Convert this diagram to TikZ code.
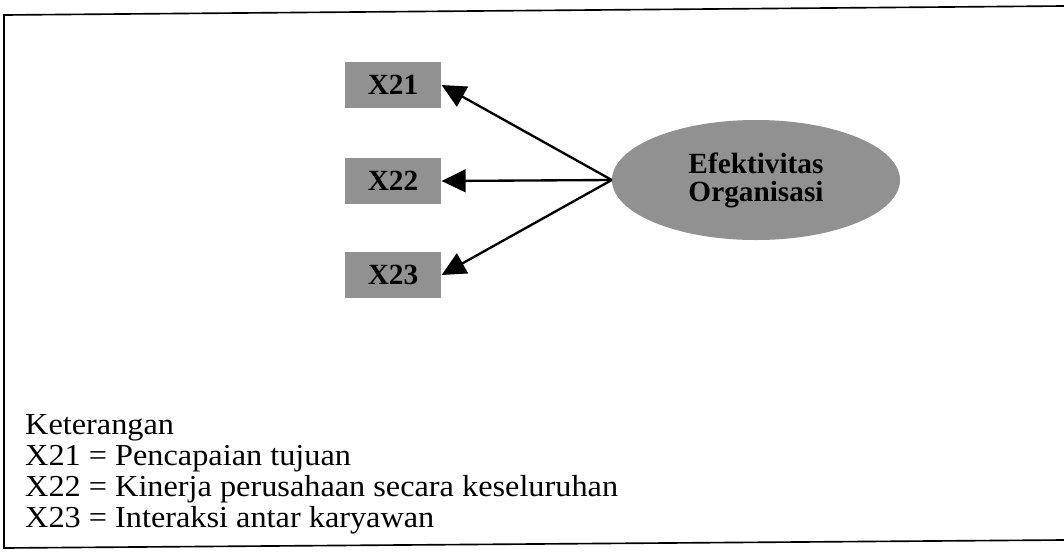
\documentclass[tikz,border=0pt]{standalone}
\usepackage{fontspec}
\setmainfont{Liberation Serif}
\newfontfamily\legendfont[FakeStretch=1.06]{Liberation Serif}
\usetikzlibrary{shapes.geometric,arrows.meta,positioning}
\definecolor{shadegray}{RGB}{145,145,145}

\begin{document}
\begin{tikzpicture}[
  x=0.03cm,y=-0.03cm,
  indicator/.style={rectangle,fill=shadegray,minimum width=2.9cm,minimum height=1.38cm,
    inner sep=0pt,font=\fontsize{25}{27}\selectfont\bfseries},
  latent/.style={ellipse,fill=shadegray,minimum width=8.64cm,minimum height=3.6cm,
    inner sep=0pt,align=center,font=\fontsize{25}{24}\selectfont\bfseries},
  arrow/.style={-{Triangle[length=0.72cm,width=0.68cm]},line width=2pt},
  note/.style={anchor=base west,inner sep=0pt,font=\legendfont\fontsize{26}{26}\selectfont}
]
\useasboundingbox (0,0) rectangle (1064,554);
% frame
\draw[line width=1.4pt] (1064,6) -- (4,15) -- (4,548) -- (1064,540);

\node[latent] (eo) at (756,180) {Efektivitas\\ Organisasi};
\node[indicator] (x21) at (393,85)  {X21};
\node[indicator] (x22) at (393,181) {X22};
\node[indicator] (x23) at (393,275) {X23};

\foreach \t in {x21,x22,x23}
  \draw[arrow] (eo.west) -- (\t.east);

% keterangan
\node[note] (ket) at (25,434) {Keterangan};
\node[note] (k21) at (25,465) {X21 = Pencapaian tujuan};
\node[note] (k22) at (25,496) {X22 = Kinerja perusahaan secara keseluruhan};
\node[note] (k23) at (25,527) {X23 = Interaksi antar karyawan};
\end{tikzpicture}
\end{document}
